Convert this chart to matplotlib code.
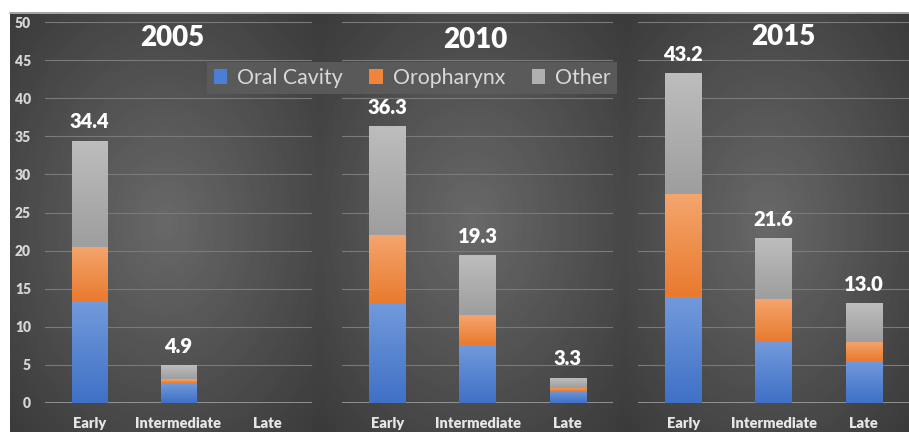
import numpy as np
import matplotlib
matplotlib.use("Agg")
import matplotlib.pyplot as plt
from matplotlib.colors import LinearSegmentedColormap
from matplotlib.patches import Patch

plt.rcParams['font.family'] = ['Lato', 'DejaVu Sans']

# data
years = ['2005', '2010', '2015']
stages = ['Early', 'Intermediate', 'Late']
oral_cavity = [[13.2, 2.6, 0.0], [13.0, 7.6, 1.6], [13.9, 8.0, 5.5]]
oropharynx = [[7.3, 0.5, 0.0], [9.0, 3.9, 0.4], [13.5, 5.6, 2.5]]
other = [[13.9, 1.8, 0.0], [14.3, 7.8, 1.3], [15.8, 8.0, 5.0]]
totals = [[34.4, 4.9, 0.0], [36.3, 19.3, 3.3], [43.2, 21.6, 13.0]]
series_names = ['Oral Cavity', 'Oropharynx', 'Other']
y_ticks = [0, 5, 10, 15, 20, 25, 30, 35, 40, 45, 50]

# (bottom colour, top colour) for the Excel-like gradients
series_colors = [('#3f71c6', '#7299db'), ('#e97a2e', '#f4a56d'), ('#9e9e9e', '#bdbdbd')]
legend_colors = ['#4a7fd4', '#f0843a', '#b0b0b0']

W, H = 909, 432
fig = plt.figure(figsize=(W / 100, H / 100), dpi=100)
fig.patch.set_facecolor('white')


def px(x0, y0, x1, y1):
    """pixel box (top-left origin) -> figure fraction rect"""
    return [x0 / W, 1 - y1 / H, (x1 - x0) / W, (y1 - y0) / H]


# dark background with a soft radial glow per panel
bg = fig.add_axes(px(10, 12, 909, 432))
bg.axis('off')
bw, bh = 899, 420
img = np.zeros((bh, bw))
yy, xx = np.mgrid[0:bh, 0:bw]
for a, b in [(0, 310), (310, 615), (615, 899)]:
    cx, cy = (a + b) / 2, bh * 0.5
    r = np.sqrt(((xx - cx) / ((b - a) * 0.62)) ** 2 + ((yy - cy) / (bh * 0.62)) ** 2)
    val = 0.41 - 0.16 * np.clip(r, 0, 1.2)
    mask = (xx >= a) & (xx < b)
    img[mask] = val[mask]
bg.imshow(img, cmap='gray', vmin=0, vmax=1, aspect='auto', interpolation='bilinear')
fig.add_artist(plt.Line2D([10 / W, 1], [1 - 12.5 / H] * 2, color='#b8b8b8', lw=1.2))

panel_boxes = [(45, 22, 312, 403), (342, 22, 613, 403), (638, 22, 909, 403)]
title_pos = [(172, 46), (475, 48), (783, 45)]

for i, year in enumerate(years):
    ax = fig.add_axes(px(*panel_boxes[i]))
    ax.set_facecolor('none')
    for s in ax.spines.values():
        s.set_visible(False)
    x = np.arange(len(stages))
    bottom = np.zeros(len(stages))
    for vals, (c0, c1) in zip([oral_cavity[i], oropharynx[i], other[i]], series_colors):
        bars = ax.bar(x, vals, 0.4, bottom=bottom, color=c1, zorder=3)
        cmap = LinearSegmentedColormap.from_list('g', [c0, c1])
        for rect in bars:
            h = rect.get_height()
            if h <= 0:
                continue
            x0, y0, w = rect.get_x(), rect.get_y(), rect.get_width()
            ax.imshow(np.linspace(0, 1, 64).reshape(-1, 1), cmap=cmap, origin='lower',
                      extent=[x0, x0 + w, y0, y0 + h], aspect='auto', zorder=3.5)
        bottom += np.array(vals)
    for xi, t in zip(x, totals[i]):
        if t > 0:
            ax.annotate(f'{t:.1f}', (xi, t), xytext=(0, 9), textcoords='offset points',
                        ha='center', va='baseline', color='white', fontsize=14.5,
                        fontweight='heavy', zorder=5)
    ax.set_xlim(-0.5, 2.5)
    ax.set_ylim(0, 50)
    ax.set_yticks(y_ticks)
    ax.grid(axis='y', color='#7a7a7a', lw=0.8, zorder=1)
    ax.axhline(0, color='#a8a8a8', lw=1.8, zorder=2)
    ax.set_xticks(x)
    ax.set_xticklabels(stages, fontsize=10.5, fontweight='heavy', color='#e6e6e6')
    ax.tick_params(axis='x', length=0, pad=10)
    ax.tick_params(axis='y', length=0, pad=10)
    if i == 0:
        ax.set_yticklabels([str(v) for v in y_ticks], fontsize=10, fontweight='heavy',
                           color='#d6d6d6')
    else:
        ax.tick_params(axis='y', labelleft=False)
    tx, ty = title_pos[i]
    fig.text(tx / W, 1 - ty / H, year, ha='center', va='baseline', color='white',
             fontsize=20, fontweight='heavy')

handles = [Patch(facecolor=c, edgecolor='none') for c in legend_colors]
leg = fig.legend(handles, series_names, ncol=3, loc='center',
                 bbox_to_anchor=(412 / W, 1 - 78 / H), fontsize=15.3,
                 frameon=True, facecolor='#5c5c5c', edgecolor='none', framealpha=0.9,
                 handlelength=0.65, handleheight=0.75, handletextpad=0.45,
                 columnspacing=1.25, borderpad=0.3, fancybox=False)
for t in leg.get_texts():
    t.set_color('#d9d9d9')

fig.savefig('out.png', dpi=100)
